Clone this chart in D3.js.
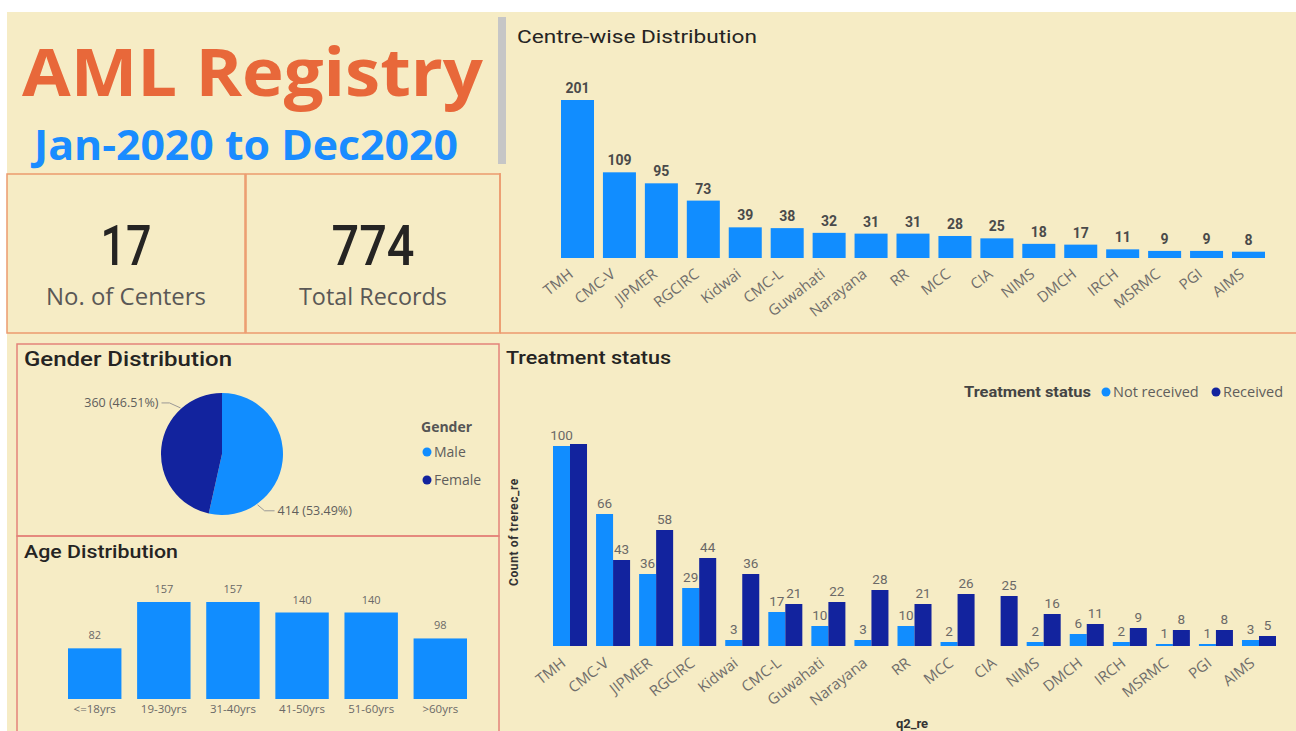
<!DOCTYPE html>
<html>
<head>
<meta charset="utf-8">
<script src="https://cdn.jsdelivr.net/npm/d3@7"></script>
<style>
  body { margin: 0; background: #fff; }
  svg { display: block; }
</style>
</head>
<body>
<svg id="dash" width="1296" height="731"></svg>
<script>
'use strict';

const centres = ["TMH", "CMC-V", "JIPMER", "RGCIRC", "Kidwai", "CMC-L", "Guwahati", "Narayana", "RR", "MCC", "CIA", "NIMS", "DMCH", "IRCH", "MSRMC", "PGI", "AIMS"];
const centreTotals = [201, 109, 95, 73, 39, 38, 32, 31, 31, 28, 25, 18, 17, 11, 9, 9, 8];
const notReceived = [100, 66, 36, 29, 3, 17, 10, 3, 10, 2, 0, 2, 6, 2, 1, 1, 3];
const received = [101, 43, 58, 44, 36, 21, 22, 28, 21, 26, 25, 16, 11, 9, 8, 8, 5];
const hiddenReceivedLabels = ["TMH"];
const ageGroups = ["<=18yrs", "19-30yrs", "31-40yrs", "41-50yrs", "51-60yrs", ">60yrs"];
const ageCounts = [82, 157, 157, 140, 140, 98];
const genders = ["Male", "Female"];
const genderCounts = [414, 360];
const kpiValues = ["17", "774"];
const kpiNames = ["No. of Centers", "Total Records"];
const treatmentKeys = ["Not received", "Received"];

const LIGHT = "#118dff", DARK = "#12239e";
const CREAM = "#f6ecc5";
const SEGOE = "'Open Sans', 'Noto Sans', sans-serif";
const DIN = "Roboto, 'Noto Sans', sans-serif";

const svg = d3.select("#dash");

svg.append("rect").attr("x", 7).attr("y", 12).attr("width", 1289).attr("height", 719).attr("fill", CREAM);

// ---- header
svg.append("text").attr("x", 22).attr("y", 96)
    .attr("textLength", 461).attr("lengthAdjust", "spacingAndGlyphs")
    .style("font", `bold 67px ${SEGOE}`).attr("fill", "#e8683a")
    .text("AML Registry");
svg.append("text").attr("x", 34).attr("y", 160)
    .attr("textLength", 424).attr("lengthAdjust", "spacingAndGlyphs")
    .style("font", `bold 42px ${SEGOE}`).attr("fill", "#1a8cff")
    .text("Jan-2020 to Dec2020");
svg.append("rect").attr("x", 498).attr("y", 17).attr("width", 8).attr("height", 147).attr("fill", "#c6c6c6");

// ---- KPI cards
const cards = [{ x: 7, w: 238, tw: 51, lw: 160 }, { x: 246, w: 254, tw: 83, lw: 148 }];
cards.forEach((c, i) => {
    svg.append("rect").attr("x", c.x).attr("y", 174).attr("width", c.w).attr("height", 159)
        .attr("fill", "none").attr("stroke", "#ec9a6e").attr("stroke-width", 1.5);
    const cx = c.x + c.w / 2;
    svg.append("text").attr("x", cx - c.tw / 2).attr("y", 265)
        .attr("textLength", c.tw).attr("lengthAdjust", "spacingAndGlyphs")
        .style("font", `500 55px ${DIN}`).attr("fill", "#252423").text(kpiValues[i]);
    svg.append("text").attr("x", cx - c.lw / 2).attr("y", 305)
        .attr("textLength", c.lw).attr("lengthAdjust", "spacingAndGlyphs")
        .style("font", `24px ${SEGOE}`).attr("fill", "#5a5856").text(kpiNames[i]);
});
svg.append("line").attr("x1", 500).attr("x2", 1296).attr("y1", 333).attr("y2", 333)
    .attr("stroke", "#ec9a6e").attr("stroke-width", 1.5);
svg.append("line").attr("x1", 500).attr("x2", 500).attr("y1", 173).attr("y2", 333)
    .attr("stroke", "#ec9a6e").attr("stroke-width", 1.5);

// rotated category labels, Power BI style
function slantLabels(g) {
    g.select(".domain").remove();
    g.selectAll("text")
        .attr("text-anchor", "end").attr("dy", "0.55em").attr("dx", "-0.7em")
        .attr("transform", "rotate(-38)")
        .style("font", `15px ${SEGOE}`).attr("fill", "#706e6b");
}

// ---- Centre-wise Distribution
svg.append("text").attr("x", 517).attr("y", 43)
    .attr("textLength", 240).attr("lengthAdjust", "spacingAndGlyphs")
    .style("font", `18px ${DIN}`).attr("fill", "#252423").text("Centre-wise Distribution");

const xc = d3.scaleBand().domain(centres).range([561, 1265]).paddingInner(0.213).paddingOuter(0);
const yc = d3.scaleLinear().domain([0, 201]).range([258, 100]);
const centreG = svg.append("g");
centreG.selectAll("rect").data(centres).join("rect")
    .attr("x", d => xc(d)).attr("width", xc.bandwidth())
    .attr("y", (d, i) => yc(centreTotals[i])).attr("height", (d, i) => yc(0) - yc(centreTotals[i]))
    .attr("fill", LIGHT);
centreG.selectAll("text.val").data(centres).join("text").attr("class", "val")
    .attr("x", d => xc(d) + xc.bandwidth() / 2).attr("y", (d, i) => yc(centreTotals[i]) - 7)
    .attr("text-anchor", "middle").style("font", `bold 14px ${DIN}`).attr("fill", "#4a4a4a")
    .text((d, i) => centreTotals[i]);
svg.append("g").attr("transform", "translate(0,263)")
    .call(d3.axisBottom(xc).tickSize(0).tickPadding(0))
    .call(slantLabels);

// ---- Gender Distribution
svg.append("rect").attr("x", 17).attr("y", 344).attr("width", 482).attr("height", 192)
    .attr("fill", "none").attr("stroke", "#e3837a").attr("stroke-width", 1.5);
svg.append("text").attr("x", 24).attr("y", 366)
    .attr("textLength", 208).attr("lengthAdjust", "spacingAndGlyphs")
    .style("font", `500 21px ${DIN}`).attr("fill", "#252423").text("Gender Distribution");

const pieG = svg.append("g").attr("transform", "translate(222,454)");
const R = 61;
const color = d3.scaleOrdinal().domain(genders).range([LIGHT, DARK]);
const arcs = d3.pie().sort(null)(genderCounts);
const arc = d3.arc().innerRadius(0).outerRadius(R);
pieG.selectAll("path").data(arcs).join("path")
    .attr("d", arc).attr("fill", (d, i) => color(genders[i]));

const total = d3.sum(genderCounts);
const edge = (deg, r) => [r * Math.sin(deg * Math.PI / 180), -r * Math.cos(deg * Math.PI / 180)];
// leader lines: male bottom-right, female top-left
const leaders = [
    { ang: 145, pts: [[0, 0], [7, 6], [17, 6]], anchor: "start", tx: 20 },
    { ang: -42, pts: [[0, 0], [-11, -5], [-19, -5]], anchor: "end", tx: -22 }
];
leaders.forEach((l, i) => {
    const [ex, ey] = edge(l.ang, R + 1);
    const pts = l.pts.map(p => [ex + p[0], ey + p[1]]);
    pieG.append("path").attr("d", d3.line()(pts)).attr("fill", "none").attr("stroke", "#9a9896").attr("stroke-width", 1);
    pieG.append("text").attr("x", ex + l.tx).attr("y", ey + l.pts[2][1]).attr("dy", "0.35em")
        .attr("text-anchor", l.anchor).style("font", `12.5px ${SEGOE}`).attr("fill", "#605e5c")
        .text(`${genderCounts[i]} (${(genderCounts[i] / total * 100).toFixed(2)}%)`);
});

const legG = svg.append("g").attr("transform", "translate(421,0)");
legG.append("text").attr("x", 0).attr("y", 432).style("font", `bold 14px ${SEGOE}`).attr("fill", "#555").text("Gender");
genders.forEach((g, i) => {
    legG.append("circle").attr("cx", 6).attr("cy", 452 + i * 28).attr("r", 4.5).attr("fill", color(g));
    legG.append("text").attr("x", 13).attr("y", 452 + i * 28).attr("dy", "0.35em")
        .style("font", `14px ${SEGOE}`).attr("fill", "#605e5c").text(g);
});

// ---- Age Distribution
svg.append("rect").attr("x", 17).attr("y", 536).attr("width", 482).attr("height", 205)
    .attr("fill", "none").attr("stroke", "#e3837a").attr("stroke-width", 1.5);
svg.append("text").attr("x", 24).attr("y", 558)
    .attr("textLength", 154).attr("lengthAdjust", "spacingAndGlyphs")
    .style("font", `500 19px ${DIN}`).attr("fill", "#252423").text("Age Distribution");

const xa = d3.scaleBand().domain(ageGroups).range([68, 467]).paddingInner(0.227).paddingOuter(0);
const ya = d3.scaleLinear().domain([0, 157]).range([699, 602]);
svg.append("g").selectAll("rect").data(ageGroups).join("rect")
    .attr("x", d => xa(d)).attr("width", xa.bandwidth())
    .attr("y", (d, i) => ya(ageCounts[i])).attr("height", (d, i) => ya(0) - ya(ageCounts[i]))
    .attr("fill", LIGHT);
svg.append("g").selectAll("text").data(ageGroups).join("text")
    .attr("x", d => xa(d) + xa.bandwidth() / 2).attr("y", (d, i) => ya(ageCounts[i]) - 9)
    .attr("text-anchor", "middle").style("font", `11px ${SEGOE}`).attr("fill", "#6b6967")
    .text((d, i) => ageCounts[i]);
svg.append("g").attr("transform", "translate(0,704)").call(d3.axisBottom(xa).tickSize(0).tickPadding(0))
    .call(g => g.select(".domain").remove())
    .selectAll("text").attr("dy", "0.75em")
    .style("font", `11.5px ${SEGOE}`).attr("fill", "#6b6967");

// ---- Treatment status
svg.append("text").attr("x", 506).attr("y", 364)
    .attr("textLength", 165).attr("lengthAdjust", "spacingAndGlyphs")
    .style("font", `500 19px ${DIN}`).attr("fill", "#252423").text("Treatment status");

const x0 = d3.scaleBand().domain(centres).range([553, 1276]).paddingInner(0.21).paddingOuter(0);
const x1 = d3.scaleBand().domain(treatmentKeys).range([0, x0.bandwidth()]);
const yt = d3.scaleLinear().domain([0, 100]).range([646, 446]);
const tColor = d3.scaleOrdinal().domain(treatmentKeys).range([LIGHT, DARK]);

const rows = centres.map((c, i) => ({ centre: c, values: [notReceived[i], received[i]] }));
const grp = svg.append("g").selectAll("g").data(rows).join("g")
    .attr("transform", d => `translate(${x0(d.centre)},0)`);
grp.selectAll("rect").data(d => d.values.map((v, k) => ({ key: treatmentKeys[k], v }))).join("rect")
    .attr("x", d => x1(d.key)).attr("width", x1.bandwidth())
    .attr("y", d => yt(d.v)).attr("height", d => yt(0) - yt(d.v))
    .attr("fill", d => tColor(d.key));
grp.selectAll("text").data(d => d.values.map((v, k) => ({ key: treatmentKeys[k], v, centre: d.centre })))
    .join("text")
    .filter(d => d.v > 0 && !(d.key === "Received" && hiddenReceivedLabels.includes(d.centre)))
    .attr("x", d => x1(d.key) + x1.bandwidth() / 2).attr("y", d => yt(d.v) - 6)
    .attr("text-anchor", "middle").style("font", `13.5px ${DIN}`).attr("fill", "#6b6967")
    .text(d => d.v);

svg.append("g").attr("transform", "translate(0,652)")
    .call(d3.axisBottom(x0).tickSize(0).tickPadding(0))
    .call(slantLabels);

svg.append("text").attr("transform", "translate(518,532) rotate(-90)")
    .attr("text-anchor", "middle").style("font", `bold 12px ${DIN}`).style("letter-spacing", "0.6px")
    .attr("fill", "#333").text("Count of trerec_re");
svg.append("text").attr("x", 912).attr("y", 728).attr("text-anchor", "middle")
    .style("font", `bold 13px ${DIN}`).attr("fill", "#333").text("q2_re");

const tl = svg.append("g");
tl.append("text").attr("x", 964).attr("y", 392).attr("dy", "0.35em")
    .attr("textLength", 127).attr("lengthAdjust", "spacingAndGlyphs")
    .style("font", `bold 14px ${DIN}`).attr("fill", "#444").text("Treatment status");
const legX = [1106, 1216];
treatmentKeys.forEach((k, i) => {
    tl.append("circle").attr("cx", legX[i]).attr("cy", 392).attr("r", 4.5).attr("fill", tColor(k));
    tl.append("text").attr("x", legX[i] + 7).attr("y", 392).attr("dy", "0.35em")
        .style("font", `14.5px ${SEGOE}`).attr("fill", "#605e5c").text(k);
});
</script>
</body>
</html>
